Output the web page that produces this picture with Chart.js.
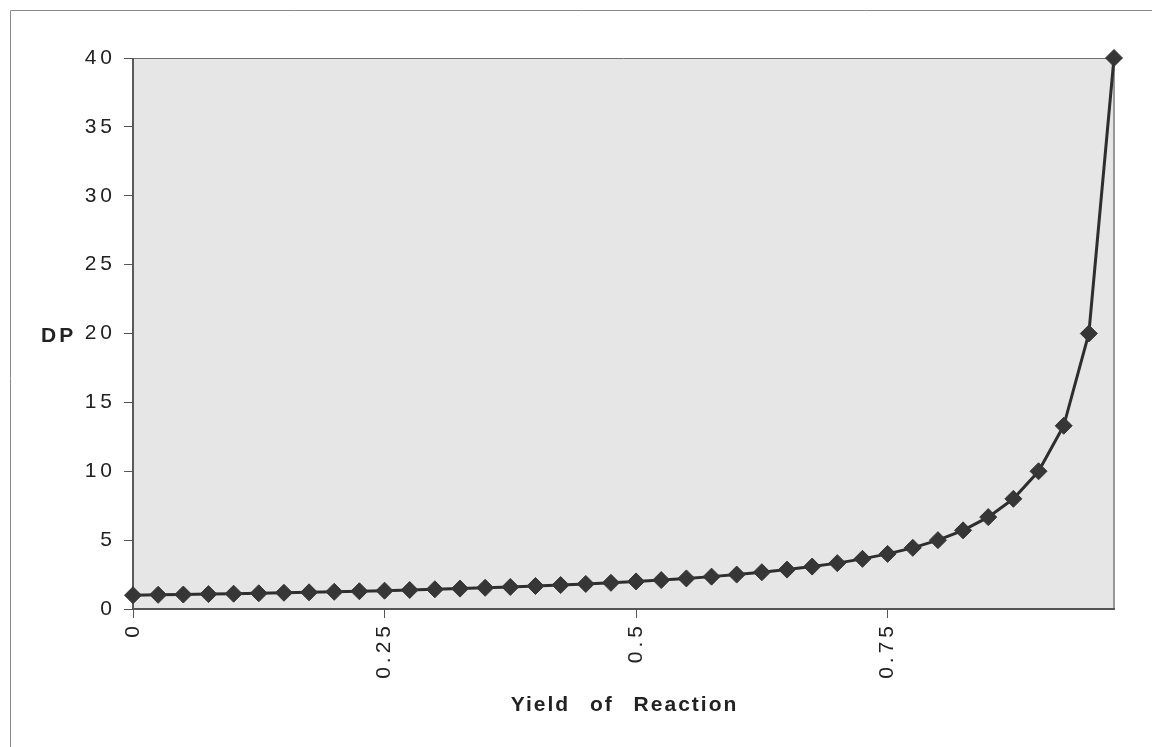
<!DOCTYPE html>
<html>
<head>
<meta charset="utf-8">
<script src="https://cdn.jsdelivr.net/npm/chart.js@4.4.0/dist/chart.umd.min.js"></script>
<style>
  html, body { margin: 0; padding: 0; background: #fff; }
</style>
</head>
<body>
<canvas id="chart" width="1152" height="747"></canvas>
<script>
// ---- data ----
const yields = [0, 0.025, 0.05, 0.075, 0.1, 0.125, 0.15, 0.175, 0.2, 0.225,
                0.25, 0.275, 0.3, 0.325, 0.35, 0.375, 0.4, 0.425, 0.45, 0.475,
                0.5, 0.525, 0.55, 0.575, 0.6, 0.625, 0.65, 0.675, 0.7, 0.725,
                0.75, 0.775, 0.8, 0.825, 0.85, 0.875, 0.9, 0.925, 0.95, 0.975];
const dpValues = [1, 1.03, 1.05, 1.08, 1.11, 1.14, 1.18, 1.21, 1.25, 1.29,
                  1.33, 1.38, 1.43, 1.48, 1.54, 1.6, 1.67, 1.74, 1.82, 1.9,
                  2, 2.1, 2.22, 2.35, 2.5, 2.67, 2.86, 3.08, 3.33, 3.64,
                  4, 4.44, 5, 5.71, 6.67, 8, 10, 13.3, 20, 40];
const xTickValues = [0, 0.25, 0.5, 0.75];
const yTickValues = [0, 5, 10, 15, 20, 25, 30, 35, 40];
const xTitle = 'Yield of Reaction';
const yTitle = 'DP';

Chart.defaults.font.family = '"Liberation Sans", Arial, sans-serif';
Chart.defaults.color = '#222';

// grey plot area, frame, hand drawn axis titles
const framePlugin = {
  id: 'frame',
  beforeDraw(chart) {
    const ctx = chart.ctx;
    const a = chart.chartArea;
    ctx.save();
    ctx.strokeStyle = '#8a8a8a';
    ctx.lineWidth = 1;
    ctx.beginPath();
    ctx.moveTo(10.5, 747);
    ctx.lineTo(10.5, 10.5);
    ctx.lineTo(1152, 10.5);
    ctx.stroke();
    ctx.fillStyle = '#e6e6e6';
    ctx.fillRect(a.left, a.top, a.right - a.left, a.bottom - a.top);
    ctx.restore();
    ctx.letterSpacing = '4px';
  },
  beforeDatasetsDraw(chart) {
    const ctx = chart.ctx;
    const a = chart.chartArea;
    ctx.letterSpacing = '0px';
    ctx.save();
    ctx.lineWidth = 1;
    ctx.strokeStyle = '#707070';
    ctx.beginPath();
    ctx.moveTo(a.left, a.top + 0.5);
    ctx.lineTo(a.right, a.top + 0.5);
    ctx.stroke();
    ctx.lineWidth = 2;
    ctx.strokeStyle = '#999';
    ctx.beginPath();
    ctx.moveTo(a.right, a.top);
    ctx.lineTo(a.right, a.bottom);
    ctx.stroke();
    ctx.strokeStyle = '#5a5a5a';
    ctx.beginPath();
    ctx.moveTo(a.left, a.top);
    ctx.lineTo(a.left, a.bottom);
    ctx.stroke();
    ctx.strokeStyle = '#555';
    ctx.beginPath();
    ctx.moveTo(a.left - 1, a.bottom);
    ctx.lineTo(a.right + 1, a.bottom);
    ctx.stroke();
    ctx.restore();
  },
  afterDraw(chart) {
    const ctx = chart.ctx;
    const a = chart.chartArea;
    const ys = chart.scales.y;
    ctx.save();
    ctx.fillStyle = '#222';
    ctx.font = 'bold 21px "Liberation Sans", Arial, sans-serif';
    ctx.letterSpacing = '2px';
    ctx.wordSpacing = '12px';
    ctx.textBaseline = 'middle';
    ctx.textAlign = 'center';
    ctx.fillText(xTitle, (a.left + a.right) / 2 + 1, 705);
    ctx.textAlign = 'left';
    ctx.letterSpacing = '3px';
    ctx.fillText(yTitle, 41, ys.getPixelForValue(20) + 3);
    ctx.restore();
  }
};

new Chart(document.getElementById('chart'), {
  type: 'line',
  data: {
    datasets: [{
      data: yields.map((x, i) => ({ x: x, y: dpValues[i] })),
      borderColor: '#2e2e2e',
      borderWidth: 3,
      backgroundColor: '#363636',
      pointStyle: 'rectRot',
      pointRadius: 8.5,
      pointBorderWidth: 1,
      pointBorderColor: '#363636',
      tension: 0,
      clip: false
    }]
  },
  options: {
    responsive: false,
    animation: false,
    layout: { padding: { top: 58, right: 38, bottom: 0, left: 0 } },
    plugins: { legend: { display: false }, tooltip: { enabled: false } },
    scales: {
      x: {
        type: 'linear',
        min: 0,
        max: 0.975,
        afterBuildTicks: s => { s.ticks = xTickValues.map(v => ({ value: v })); },
        afterFit: s => { s.height = 138; },
        ticks: {
          minRotation: 90, maxRotation: 90, autoSkip: false,
          font: { size: 21 }, color: '#222', padding: 4,
          callback: v => String(v)
        },
        grid: { drawOnChartArea: false, tickLength: 9, color: '#555' },
        border: { display: false }
      },
      y: {
        min: 0,
        max: 40,
        afterBuildTicks: s => { s.ticks = yTickValues.map(v => ({ value: v })); },
        afterFit: s => { s.width = 133; },
        ticks: { font: { size: 21 }, color: '#222', padding: 8 },
        grid: { drawOnChartArea: false, tickLength: 9, color: '#555' },
        border: { display: false }
      }
    }
  },
  plugins: [framePlugin]
});
</script>
</body>
</html>
